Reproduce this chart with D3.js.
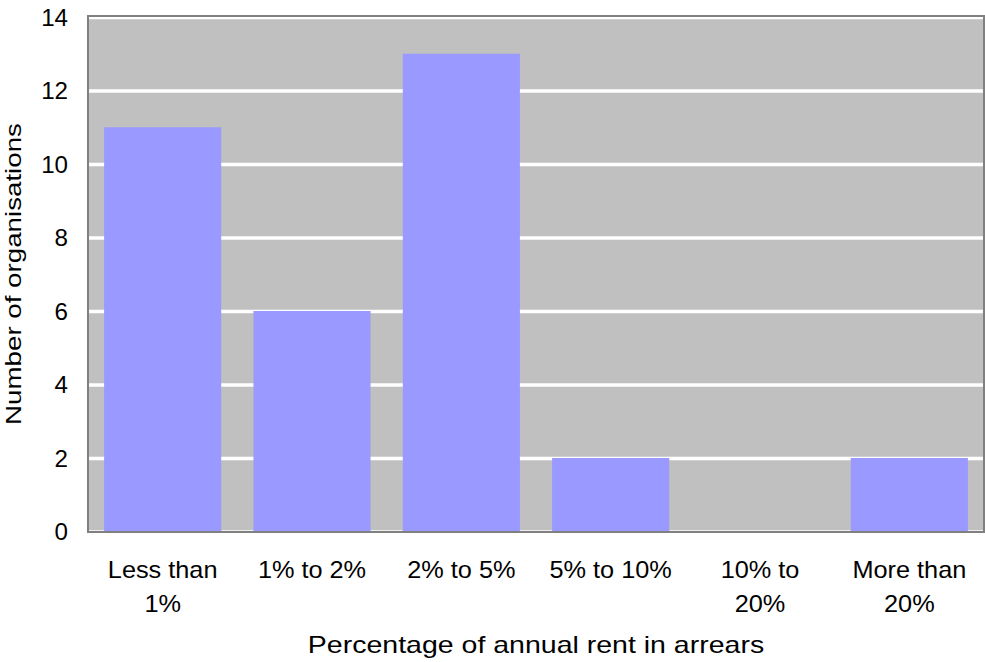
<!DOCTYPE html>
<html>
<head>
<meta charset="utf-8">
<script src="https://cdn.jsdelivr.net/npm/d3@7"></script>
<style>
  html, body { margin: 0; padding: 0; background: #fff; }
  svg { display: block; }
  text { font-family: "Liberation Sans", Arial, sans-serif; fill: #000; }
</style>
</head>
<body>
<svg id="chart" width="985" height="662"></svg>
<script>
// Rent arrears bands and the number of organisations in each
const categories = [["Less than", "1%"], ["1% to 2%"], ["2% to 5%"], ["5% to 10%"], ["10% to", "20%"], ["More than", "20%"]];
const counts = [11, 6, 13, 2, 0, 2];
const yTicks = [0, 2, 4, 6, 8, 10, 12, 14];
const xTitle = "Percentage of annual rent in arrears";
const yTitle = "Number of organisations";

const svg = d3.select("#chart");
const plot = { left: 88, right: 984, top: 16, bottom: 532 };

const x = d3.scaleBand()
  .domain(d3.range(categories.length))
  .range([plot.left, plot.right])
  .paddingInner(0.216)
  .paddingOuter(0.108);

const y = d3.scaleLinear()
  .domain([0, 14])
  .range([531.5, 17]);

// plot background
svg.append("rect")
  .attr("x", plot.left).attr("y", plot.top)
  .attr("width", plot.right - plot.left).attr("height", plot.bottom - plot.top)
  .attr("fill", "#C0C0C0");

// horizontal gridlines
svg.append("g")
  .selectAll("line")
  .data(yTicks)
  .join("line")
  .attr("x1", plot.left).attr("x2", plot.right)
  .attr("y1", d => y(d) + 0.5).attr("y2", d => y(d) + 0.5)
  .attr("stroke", "#fff")
  .attr("stroke-width", 3.5);

// bars
svg.append("g")
  .selectAll("rect")
  .data(counts)
  .join("rect")
  .attr("x", (d, i) => x(i))
  .attr("width", x.bandwidth())
  .attr("y", d => y(d))
  .attr("height", d => plot.bottom - y(d))
  .attr("fill", "#9999FF");

// frame
svg.append("rect")
  .attr("x", plot.left).attr("y", plot.top)
  .attr("width", plot.right - plot.left).attr("height", plot.bottom - plot.top)
  .attr("fill", "none")
  .attr("stroke", "#808080")
  .attr("stroke-width", 2);

// y tick labels
const yAxis = d3.axisLeft(y).tickValues(yTicks).tickSize(0).tickPadding(0);
const yg = svg.append("g").attr("transform", "translate(68,0)").call(yAxis);
yg.select(".domain").remove();
yg.selectAll("text")
  .attr("font-size", 23)
  .attr("font-family", "Liberation Sans, Arial, sans-serif")
  .attr("fill", "#000")
  .attr("dy", "0.36em")
  .attr("transform", d => `translate(0,${y(d)}) scale(1.05,1) translate(0,${-y(d)})`);

// category labels (one or two lines each)
const catG = svg.append("g");
categories.forEach((lines, i) => {
  const cx = x(i) + x.bandwidth() / 2;
  lines.forEach((line, j) => {
    const by = 578 + j * 34;
    catG.append("text")
      .attr("text-anchor", "middle")
      .attr("font-size", 23)
      .attr("transform", `translate(${cx},${by}) scale(1.1,1)`)
      .text(line);
  });
});

// axis titles
svg.append("text")
  .attr("text-anchor", "middle")
  .attr("font-size", 23)
  .attr("transform", `translate(${(plot.left + plot.right) / 2},653) scale(1.24,1)`)
  .text(xTitle);

svg.append("text")
  .attr("text-anchor", "middle")
  .attr("font-size", 22)
  .attr("transform", `translate(21,${(plot.top + plot.bottom) / 2}) rotate(-90) scale(1.26,1)`)
  .text(yTitle);
</script>
</body>
</html>
